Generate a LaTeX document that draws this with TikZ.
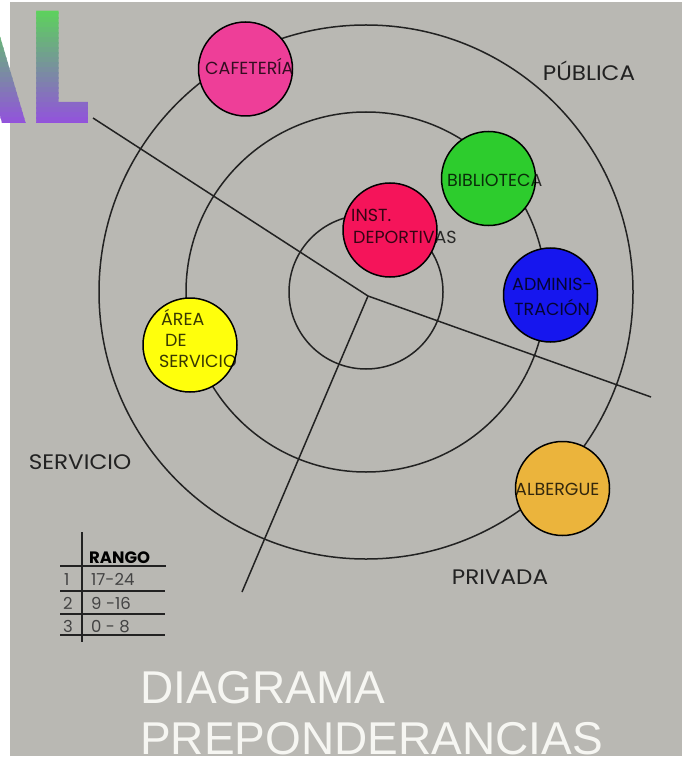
\documentclass[tikz,border=0pt]{standalone}
\usepackage{fontspec}
\setmainfont{Poppins}
\newfontfamily\titlefont{Liberation Sans}
\definecolor{bg}{HTML}{B9B8B3}
\definecolor{ink}{HTML}{222222}
\definecolor{cpink}{HTML}{EE3E98}
\definecolor{cgreen}{HTML}{2DCC2D}
\definecolor{cred}{HTML}{F5145A}
\definecolor{cblue}{HTML}{1616EE}
\definecolor{cyellow}{HTML}{FFFF0C}
\definecolor{corange}{HTML}{EBB43C}
\definecolor{algreen}{HTML}{5CD45A}
\definecolor{alpurple}{HTML}{9350DE}
\definecolor{titlewhite}{HTML}{F6F6F2}
\tikzset{
  ring/.style={draw=ink, line width=1.5pt},
  axis/.style={draw=ink, line width=1.5pt},
  bubble/.style={circle, draw=black, line width=1.5pt, minimum size=94pt, inner sep=0pt},
  blabel/.style={anchor=base west, inner sep=0pt, text=black, text opacity=0.78, font=\fontsize{17.5}{20}\selectfont},
  zone/.style={anchor=base, inner sep=0pt, text=ink, xscale=1.1, font=\fontsize{21}{24}\selectfont},
  tab/.style={anchor=base west, inner sep=0pt, text=ink!85, font=\fontsize{16.5}{18}\selectfont},
  tline/.style={draw=ink, line width=1.1pt},
  title/.style={anchor=base west, inner sep=0pt, text=titlewhite, font=\titlefont\fontsize{46}{50}\selectfont}
}
\begin{document}
\begin{tikzpicture}[x=1pt,y=-1pt]
\useasboundingbox (0,0) rectangle (682,759);
\fill[white] (0,0) rectangle (682,759);
\fill[bg] (10,2) rectangle (682,756);
% gradient "AL" (cut at the left edge, as in the reference)
\foreach \i in {0,...,23}{
  \pgfmathsetmacro\pp{100*\i/23}
  \colorlet{bandc}{alpurple!\pp!algreen}
  \begin{scope}
    \clip (0,{8+\i*5}) rectangle (120,{8+(\i+1)*5+0.6});
    \node[anchor=base east, inner sep=0pt, xscale=0.82, text=bandc, font=\fontsize{160}{160}\selectfont\bfseries] at (91,124) {AL};
  \end{scope}
}
% rings
\coordinate (C) at (366,292);
\draw[ring] (C) circle[radius=77pt];
\draw[ring] (C) circle[radius=180pt];
\draw[ring] (C) circle[radius=267pt];
% axes
\coordinate (J) at (368,296);
\coordinate (a1) at (93,118);
\coordinate (a2) at (651,397);
\coordinate (a3) at (242,592);
\draw[axis] (a1) -- (J) -- (a2);
\draw[axis] (J) -- (a3);
% bubbles
\node[bubble, fill=cpink] (caf) at (245.5,69) {};
\node[bubble, fill=cgreen] (bib) at (488.5,178.5) {};
\node[bubble, fill=cred] (dep) at (390,230) {};
\node[bubble, fill=cblue] (adm) at (550.5,295) {};
\node[bubble, fill=cyellow] (ser) at (190,345) {};
\node[bubble, fill=corange] (alb) at (562.5,488.5) {};
% bubble labels
\node[blabel] (tcaf) at (205,75) {CAFETERÍA};
\node[blabel] (tbib) at (447,187) {BIBLIOTECA};
\node[blabel] (tdep1) at (351,222) {INST.};
\node[blabel] (tdep2) at (353,243) {DEPORTIVAS};
\node[blabel] (tadm1) at (512,290) {ADMINIS-};
\node[blabel] (tadm2) at (514,315) {TRACIÓN};
\node[blabel] (tser1) at (161,325) {ÁREA};
\node[blabel] (tser2) at (165,346) {DE};
\node[blabel] (tser3) at (159,367) {SERVICIO};
\node[blabel] (talb) at (515,495) {ALBERGUE};
% zone labels
\node[zone] (pub) at (589,81) {PÚBLICA};
\node[zone] (sv) at (80,469) {SERVICIO};
\node[zone] (pr) at (500,584) {PRIVADA};
% table
\coordinate (v1) at (82,532);
\coordinate (v2) at (82,642);
\draw[tline] (v1) -- (v2);
\coordinate (h1a) at (60,566); \coordinate (h1b) at (166,566);
\coordinate (h2a) at (60,591); \coordinate (h2b) at (165,591);
\coordinate (h3a) at (60,614); \coordinate (h3b) at (165,614);
\coordinate (h4a) at (60,635); \coordinate (h4b) at (165,635);
\draw[tline, line width=1.6pt] (h1a) -- (h1b);
\draw[tline] (h2a) -- (h2b);
\draw[tline] (h3a) -- (h3b);
\draw[tline] (h4a) -- (h4b);
\node[anchor=base west, inner sep=0pt, text=black, font=\fontsize{16.5}{18}\selectfont\bfseries] (rango) at (89,563) {RANGO};
\node[tab] (n1) at (64,585) {1};
\node[tab] (r1) at (91,585) {17-24};
\node[tab] (n2) at (63,609) {2};
\node[tab] (r2) at (91,609) {9 -16};
\node[tab] (n3) at (63,632) {3};
\node[tab] (r3) at (91,632) {0 - 8};
% title
\node[title] (t1) at (140,703) {DIAGRAMA};
\node[title] (t2) at (140,754) {PREPONDERANCIAS};
\end{tikzpicture}
\end{document}
